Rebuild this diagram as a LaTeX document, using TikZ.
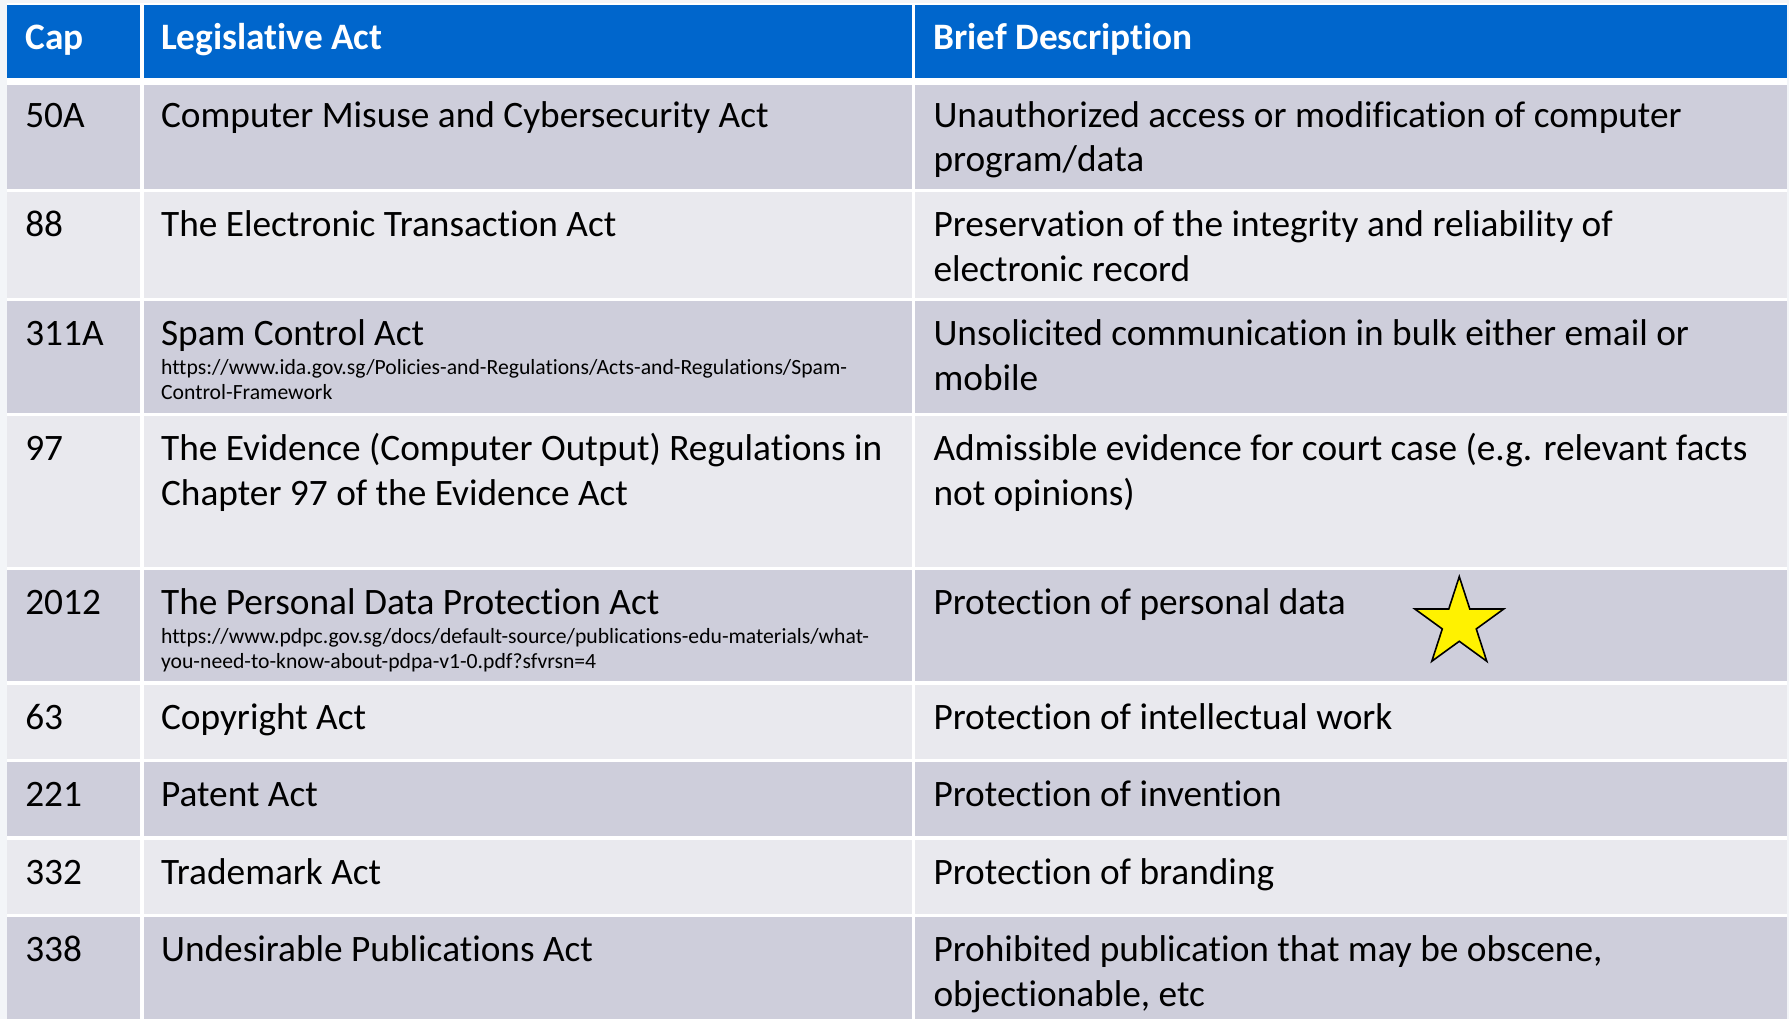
\documentclass[tikz,border=0pt]{standalone}
\usepackage{fontspec}
\setmainfont{Carlito}[Ligatures=TeX,RawFeature={-liga;-clig;-calt;-dlig}]
\usepackage{xcolor}
\usetikzlibrary{shapes.geometric}
\definecolor{hdrblue}{RGB}{0,102,204}
\definecolor{rowdark}{RGB}{206,206,219}
\definecolor{rowlight}{RGB}{233,233,238}
\definecolor{pagegray}{RGB}{243,245,248}

\begin{document}
\begin{tikzpicture}[x=1pt,y=1pt,yscale=-1,xscale=1,
  celltxt/.style={anchor=base west,inner sep=0pt,font=\fontsize{32.7}{39.2}\selectfont},
  hdrtxt/.style={celltxt,text=white,font=\fontsize{32.7}{39.2}\selectfont\bfseries},
  urltxt/.style={anchor=base west,inner sep=0pt,font=\fontsize{19}{22}\selectfont}]
\useasboundingbox (0,0) rectangle (1568,893);

%Shape: Rectangle [page]
\fill [pagegray] (0,0) -- (1568,0) -- (1568,893) -- (0,893) -- cycle ;
\fill [white] (6,3) -- (1566,3) -- (1566,893) -- (6,893) -- cycle ;
%Shape: Rectangle [header]
\fill [hdrblue] (6,4.5) -- (1566,4.5) -- (1566,68) -- (6,68) -- cycle ;
%Shape: Rectangle [rows]
\fill [rowdark] (6,74.5) -- (1566,74.5) -- (1566,165.6) -- (6,165.6) -- cycle ;
\fill [rowlight] (6,168) -- (1566,168) -- (1566,261) -- (6,261) -- cycle ;
\fill [rowdark] (6,263.5) -- (1566,263.5) -- (1566,361.7) -- (6,361.7) -- cycle ;
\fill [rowlight] (6,364.3) -- (1566,364.3) -- (1566,496.6) -- (6,496.6) -- cycle ;
\fill [rowdark] (6,499.6) -- (1566,499.6) -- (1566,597.2) -- (6,597.2) -- cycle ;
\fill [rowlight] (6,600) -- (1566,600) -- (1566,665) -- (6,665) -- cycle ;
\fill [rowdark] (6,668) -- (1566,668) -- (1566,733) -- (6,733) -- cycle ;
\fill [rowlight] (6,736) -- (1566,736) -- (1566,801) -- (6,801) -- cycle ;
\fill [rowdark] (6,804) -- (1566,804) -- (1566,893) -- (6,893) -- cycle ;
%Shape: Rectangle [column gaps]
\fill [white] (123,4.5) -- (126,4.5) -- (126,893) -- (123,893) -- cycle ;
\fill [white] (799,4.5) -- (802,4.5) -- (802,893) -- (799,893) -- cycle ;

%Shape: Star
\node [star,star points=5,star point ratio=2.618,minimum size=82pt,inner sep=0pt,draw=black,line width=1.4pt,fill=yellow] (pdpastar) at (1279,546.4) {};

% Text Node
\draw (22,43.3) node [hdrtxt] (hcap) {Cap};
% Text Node
\draw (141,43.3) node [hdrtxt] (hact) {Legislative Act};
% Text Node
\draw (818,43.3) node [hdrtxt] (hdesc) {Brief Description};

% Text Node
\draw (22,111.5) node [celltxt] (cap1) {50A};
\draw (141,111.5) node [celltxt] (act1) {Computer Misuse and Cybersecurity Act};
\draw (818,111.5) node [celltxt] (desc1) {Unauthorized access or modification of computer};
\draw (818,150.7) node [celltxt] (desc1b) {program/data};
% Text Node
\draw (22,207.3) node [celltxt] (cap2) {88};
\draw (141,207.3) node [celltxt] (act2) {The Electronic Transaction Act};
\draw (818,207.3) node [celltxt] (desc2) {Preservation of the integrity and reliability of};
\draw (818,246.5) node [celltxt] (desc2b) {electronic record};
% Text Node
\draw (22,302.7) node [celltxt] (cap3) {311A};
\draw (141,302.7) node [celltxt] (act3) {Spam Control Act};
\draw (141,328.5) node [urltxt] (url3) {https://www.ida.gov.sg/Policies-and-Regulations/Acts-and-Regulations/Spam-};
\draw (141,350) node [urltxt] (url3b) {Control-Framework};
\draw (818,302.7) node [celltxt] (desc3) {Unsolicited communication in bulk either email or};
\draw (818,341.9) node [celltxt] (desc3b) {mobile};
% Text Node
\draw (22,403.5) node [celltxt] (cap4) {97};
\draw (141,403.5) node [celltxt] (act4) {The Evidence (Computer Output) Regulations in};
\draw (141,442.7) node [celltxt] (act4b) {Chapter 97 of the Evidence Act};
\draw (818,403.5) node [celltxt] (desc4) {Admissible evidence for court case (e.g. relevant facts};
\draw (818,442.7) node [celltxt] (desc4b) {not opinions)};
% Text Node
\draw (22,538.5) node [celltxt] (cap5) {2012};
\draw (141,538.5) node [celltxt] (act5) {The Personal Data Protection Act};
\draw (141,564.3) node [urltxt] (url5) {https://www.pdpc.gov.sg/docs/default-source/publications-edu-materials/what-};
\draw (141,585.8) node [urltxt] (url5b) {you-need-to-know-about-pdpa-v1-0.pdf?sfvrsn=4};
\draw (818,538.5) node [celltxt] (desc5) {Protection of personal data};
% Text Node
\draw (22,639) node [celltxt] (cap6) {63};
\draw (141,639) node [celltxt] (act6) {Copyright Act};
\draw (818,639) node [celltxt] (desc6) {Protection of intellectual work};
% Text Node
\draw (22,707) node [celltxt] (cap7) {221};
\draw (141,707) node [celltxt] (act7) {Patent Act};
\draw (818,707) node [celltxt] (desc7) {Protection of invention};
% Text Node
\draw (22,775) node [celltxt] (cap8) {332};
\draw (141,775) node [celltxt] (act8) {Trademark Act};
\draw (818,775) node [celltxt] (desc8) {Protection of branding};
% Text Node
\draw (22,843) node [celltxt] (cap9) {338};
\draw (141,843) node [celltxt] (act9) {Undesirable Publications Act};
\draw (818,843) node [celltxt] (desc9) {Prohibited publication that may be obscene,};
\draw (818,882.2) node [celltxt] (desc9b) {objectionable, etc};

\end{tikzpicture}
\end{document}
